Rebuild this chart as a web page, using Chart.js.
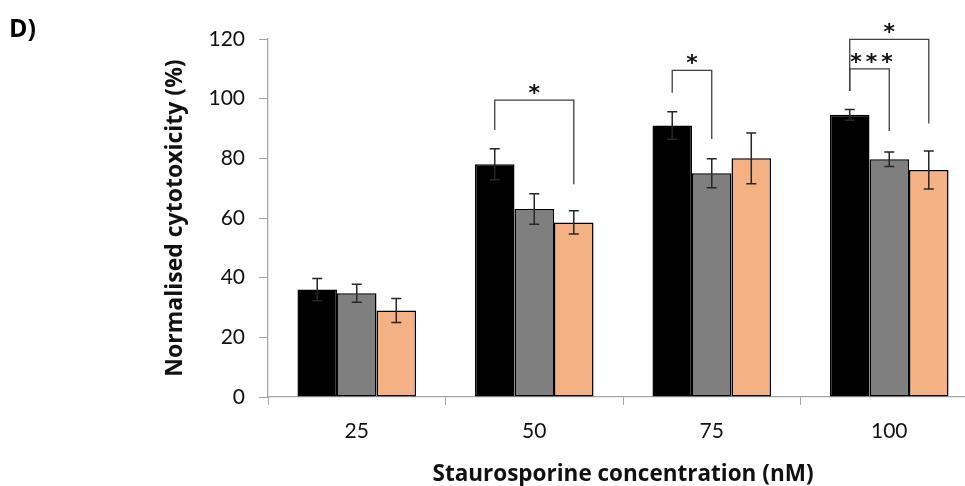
<!DOCTYPE html>
<html>
<head>
<meta charset="utf-8">
<script src="https://cdn.jsdelivr.net/npm/chart.js@4"></script>
<style>
  html, body { margin: 0; padding: 0; background: #fff; overflow: hidden; }
  #wrap { width: 990px; height: 486px; }
</style>
</head>
<body>
<div id="wrap"><canvas id="cytoChart" width="990" height="486"></canvas></div>
<script>
// Data
const concentrations = ['25', '50', '75', '100'];
const seriesBlack = [36, 78, 91, 94.6];
const errBlack = [3.7, 5.2, 4.6, 1.8];
const seriesGray = [34.8, 63, 75, 79.7];
const errGray = [3, 5.1, 4.9, 2.4];
const seriesOrange = [29, 58.5, 80, 76.1];
const errOrange = [4, 3.9, 8.5, 6.4];
const yTicks = [0, 20, 40, 60, 80, 100, 120];

// Tanda signifikansi: kategori, dataset kiri/kanan, tinggi (nilai data)
const brackets = [
    { group: 1, from: 0, to: 2, leftEnd: 89.5, top: 99.5, rightEnd: 71.3, label: '*' },
    { group: 2, from: 0, to: 1, leftEnd: 102, top: 109.5, rightEnd: 86.5, label: '*' },
    { group: 3, from: 0, to: 1, leftEnd: 102.6, top: 110, rightEnd: 89.2, label: '***' },
    { group: 3, from: 0, to: 2, leftEnd: 102.6, top: 119.9, rightEnd: 91.7, label: '*' },
];

const errors = [errBlack, errGray, errOrange];
const FONT = 'Lato, "Open Sans", sans-serif';
const TITLE_FONT = '"Open Sans", Lato, sans-serif';

// Plugin untuk error bar
const errorBarPlugin = {
    id: 'errorBars',
    afterDatasetsDraw(chart) {
        const ctx = chart.ctx;
        const yScale = chart.scales.y;
        ctx.save();
        ctx.strokeStyle = '#262626';
        ctx.lineWidth = 1.5;
        chart.data.datasets.forEach((ds, i) => {
            const meta = chart.getDatasetMeta(i);
            meta.data.forEach((bar, j) => {
                const v = ds.data[j];
                const e = errors[i][j];
                const yt = yScale.getPixelForValue(v + e);
                const yb = yScale.getPixelForValue(v - e);
                const cap = 5;
                ctx.beginPath();
                ctx.moveTo(bar.x, yt);
                ctx.lineTo(bar.x, yb);
                ctx.moveTo(bar.x - cap, yt);
                ctx.lineTo(bar.x + cap, yt);
                ctx.moveTo(bar.x - cap, yb);
                ctx.lineTo(bar.x + cap, yb);
                ctx.stroke();
            });
        });
        ctx.restore();
    }
};

// Plugin untuk garis signifikansi dan label panel
const bracketPlugin = {
    id: 'brackets',
    afterDraw(chart) {
        const ctx = chart.ctx;
        const yScale = chart.scales.y;
        ctx.save();
        ctx.strokeStyle = '#404040';
        ctx.lineWidth = 1.3;
        brackets.forEach(b => {
            const x1 = chart.getDatasetMeta(b.from).data[b.group].x;
            const x2 = chart.getDatasetMeta(b.to).data[b.group].x;
            const yTop = yScale.getPixelForValue(b.top);
            ctx.beginPath();
            ctx.moveTo(x1, yScale.getPixelForValue(b.leftEnd));
            ctx.lineTo(x1, yTop);
            ctx.lineTo(x2, yTop);
            ctx.lineTo(x2, yScale.getPixelForValue(b.rightEnd));
            ctx.stroke();

            ctx.fillStyle = '#111';
            ctx.font = 'bold 22px "DejaVu Sans", sans-serif';
            ctx.textAlign = 'center';
            ctx.textBaseline = 'middle';
            ctx.letterSpacing = b.label.length > 1 ? '4px' : '0px';
            ctx.fillText(b.label, (x1 + x2) / 2 + (b.label.length > 1 ? 4 : 0), yTop - 6);
        });
        ctx.letterSpacing = '0px';
        ctx.fillStyle = '#000';
        ctx.font = 'bold 25px ' + TITLE_FONT;
        ctx.textAlign = 'left';
        ctx.textBaseline = 'alphabetic';
        ctx.fillText('D)', 9, 37);
        ctx.restore();
    }
};

const ctxCyto = document.getElementById('cytoChart').getContext('2d');
const cytoChart = new Chart(ctxCyto, {
    type: 'bar',
    data: {
        labels: concentrations,
        datasets: [
            { data: seriesBlack, backgroundColor: '#000000' },
            { data: seriesGray, backgroundColor: '#7f7f7f' },
            { data: seriesOrange, backgroundColor: '#f4b183' },
        ].map(d => Object.assign(d, {
            borderColor: '#000000',
            borderWidth: 1.5,
            borderSkipped: false,
            categoryPercentage: 0.668,
            barPercentage: 1.0,
        })),
    },
    options: {
        responsive: false,
        animation: false,
        layout: { padding: { left: 150, top: 39, right: 12, bottom: 0 } },
        plugins: {
            legend: { display: false },
            tooltip: { enabled: false },
        },
        scales: {
            x: {
                grid: { drawOnChartArea: false, drawTicks: true, tickLength: 8, color: '#a6a6a6', offset: true },
                border: { color: '#a6a6a6', width: 1.3 },
                ticks: { color: '#111', font: { family: FONT, size: 21 }, padding: 14 },
                title: {
                    display: true,
                    text: 'Staurosporine concentration (nM)',
                    color: '#111',
                    font: { family: TITLE_FONT, size: 22.5, weight: 'bold', lineHeight: 1.0 },
                    padding: { top: 0, bottom: 0 },
                },
                afterFit(scale) { scale.height = 89; },
            },
            y: {
                min: 0,
                max: 120,
                afterBuildTicks(scale) { scale.ticks = yTicks.map(v => ({ value: v })); },
                grid: { drawOnChartArea: false, drawTicks: true, tickLength: 9, color: '#a6a6a6' },
                border: { color: '#a6a6a6', width: 1.3 },
                ticks: { color: '#111', font: { family: FONT, size: 21 }, padding: 14 },
                title: {
                    display: true,
                    text: 'Normalised cytotoxicity (%)',
                    color: '#111',
                    font: { family: TITLE_FONT, size: 23, weight: 'bold' },
                    padding: { top: 12, bottom: 0 },
                },
                afterFit(scale) { scale.width = 118; },
            },
        },
    },
    plugins: [errorBarPlugin, bracketPlugin],
});
</script>
</body>
</html>
